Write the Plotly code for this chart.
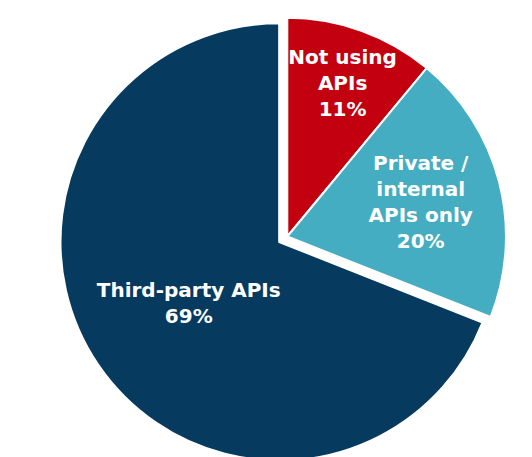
import plotly.graph_objects as go

categories = ["Not using APIs", "Private / internal APIs only", "Third-party APIs"]
values = [11, 20, 69]
label_text = ["Not using<br>APIs<br>11%", "Private /<br>internal<br>APIs only<br>20%", "Third-party APIs<br>69%"]
colors = ["#c3000f", "#45adc1", "#063a5f"]
pulls = [0, 0, 0.045]

fig = go.Figure(go.Pie(
    labels=categories,
    values=values,
    text=label_text,
    textinfo="text",
    textposition="inside",
    insidetextorientation="horizontal",
    sort=False,
    direction="clockwise",
    rotation=0,
    pull=pulls,
    marker=dict(colors=colors, line=dict(color="white", width=2)),
    textfont=dict(family="DejaVu Sans, Arial, sans-serif", size=20, color="white", weight="bold"),
    domain=dict(x=[0.05, 1], y=[0, 1]),
    hoverinfo="label+percent",
))

fig.update_layout(
    width=532,
    height=457,
    margin=dict(l=0, r=0, t=0, b=0),
    showlegend=False,
    paper_bgcolor="white",
    plot_bgcolor="white",
    uniformtext=dict(minsize=20, mode="show"),
)

fig.write_html("out.html")
